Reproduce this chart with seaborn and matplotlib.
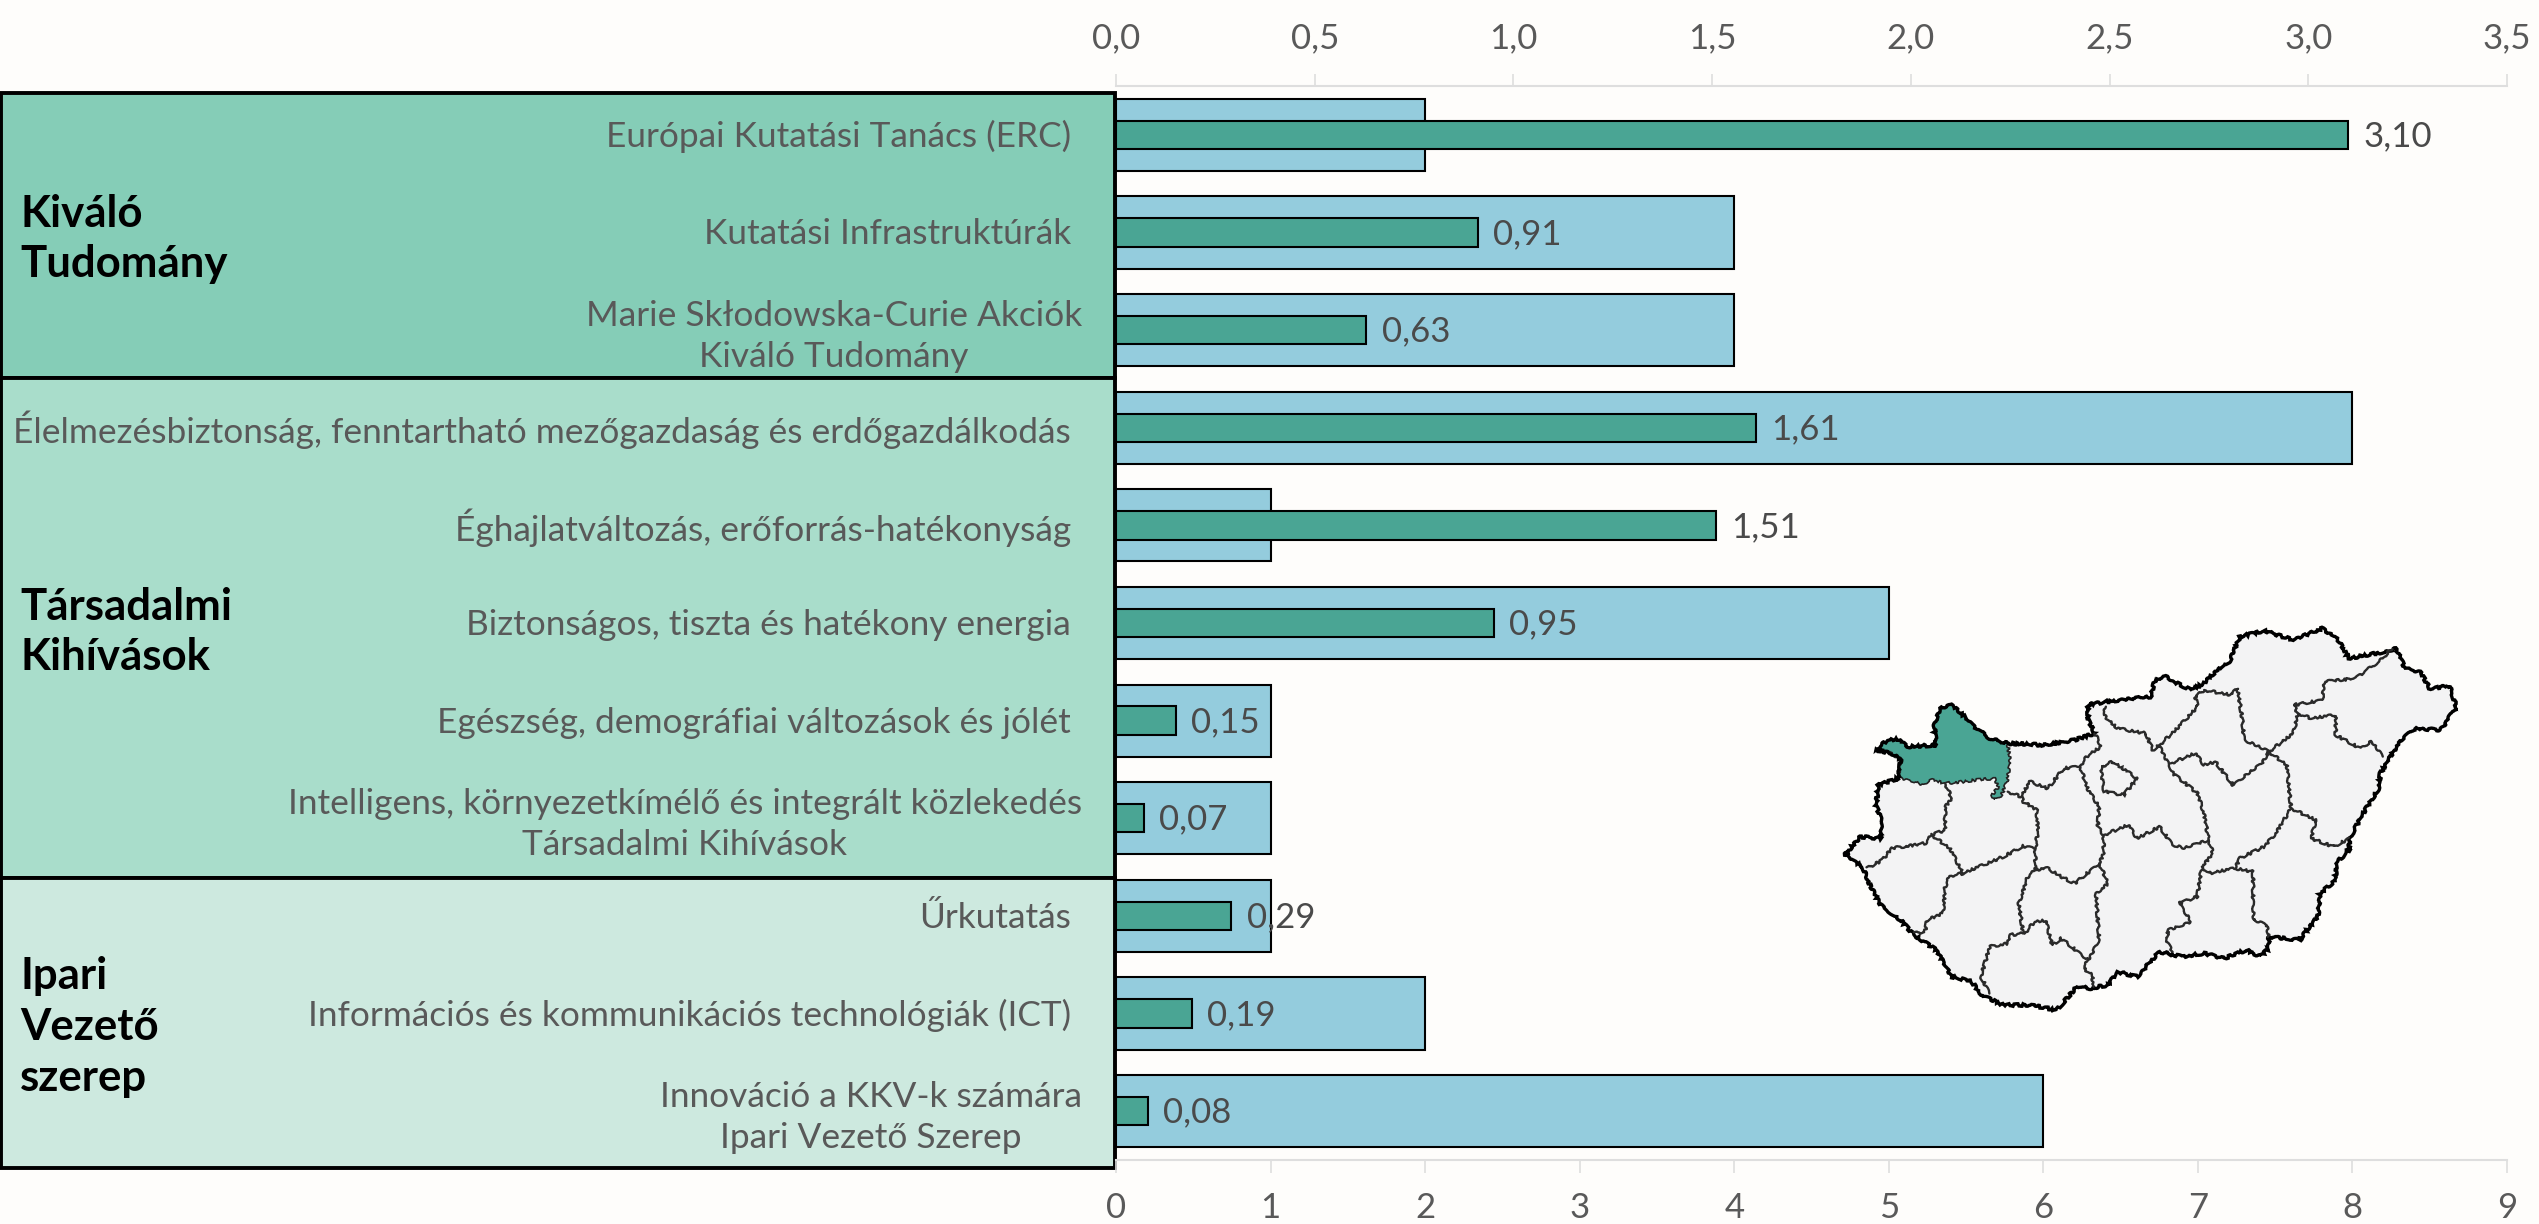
import matplotlib
matplotlib.use("Agg")
import matplotlib.pyplot as plt
import seaborn as sns
import pandas as pd
from matplotlib.patches import Rectangle, Polygon
from matplotlib.transforms import ScaledTranslation

W, H = 2539, 1224
BG = "#FEFDFB"
LIGHT = "#94CCDD"
DARK = "#4AA594"
TXT = "#595959"

categories = [
    "Európai Kutatási Tanács (ERC)",
    "Kutatási Infrastruktúrák",
    "Marie Skłodowska-Curie Akciók\nKiváló Tudomány",
    "Élelmezésbiztonság, fenntartható mezőgazdaság és erdőgazdálkodás",
    "Éghajlatváltozás, erőforrás-hatékonyság",
    "Biztonságos, tiszta és hatékony energia",
    "Egészség, demográfiai változások és jólét",
    "Intelligens, környezetkímélő és integrált közlekedés\nTársadalmi Kihívások",
    "Űrkutatás",
    "Információs és kommunikációs technológiák (ICT)",
    "Innováció a KKV-k számára\nIpari Vezető Szerep",
]
projects = [2, 4, 4, 8, 1, 5, 1, 1, 1, 2, 6]
funding = [3.10, 0.91, 0.63, 1.61, 1.51, 0.95, 0.15, 0.07, 0.29, 0.19, 0.08]
top_ticks = ["0,0", "0,5", "1,0", "1,5", "2,0", "2,5", "3,0", "3,5"]
groups = ["Kiváló\nTudomány", "Társadalmi\nKihívások", "Ipari\nVezető\nszerep"]

# Map outlines, traced in a 1568x1320 local frame
hungary = [(215,450),(240,420),(265,418),(285,440),(350,435),(345,375),(360,325),(385,315),(410,345),(430,375),(470,415),(510,430),(590,435),(660,420),(705,400),(690,360),(690,315),(730,305),(790,295),(830,290),(840,240),(865,230),(890,250),(920,270),(950,250),(975,215),(1005,190),(1030,110),(1085,92),(1150,120),(1215,85),(1250,120),(1275,175),(1355,155),(1380,145),(1400,205),(1435,215),(1455,265),(1500,258),(1515,320),(1480,390),(1425,385),(1390,420),(1345,520),(1340,570),(1315,620),(1290,680),(1275,720),(1275,750),(1245,790),(1245,840),(1210,880),(1205,950),(1180,990),(1165,1020),(1095,1010),(1095,1045),(1075,1070),(1045,1050),(995,1075),(950,1060),(900,1070),(850,1055),(800,1130),(755,1115),(735,1155),(695,1165),(665,1160),(620,1230),(560,1215),(500,1215),(450,1185),(430,1145),(385,1130),(350,1050),(300,1005),(270,960),(225,915),(200,850),(185,800),(145,765),(180,710),(225,715),(230,660),(215,620),(220,555),(265,535),(270,480),(250,460)]
region = [(215,450),(240,420),(265,418),(285,440),(350,435),(345,375),(360,325),(385,315),(410,345),(430,375),(470,415),(510,430),(515,480),(510,540),(495,590),(480,600),(475,585),(490,560),(480,535),(440,540),(410,545),(370,550),(340,540),(320,555),(290,540),(265,535),(270,480),(250,460)]
budapest = [(720,500),(745,485),(800,535),(770,585),(725,575)]
county_lines = [
    [(370,550),(385,595),(370,620),(370,690),(340,705)],
    [(340,705),(325,730),(250,745),(230,780),(195,805)],
    [(340,705),(380,745),(410,820)],
    [(380,828),(410,820),(500,770),(545,738),(572,745)],
    [(380,828),(370,860),(365,940),(330,960),(325,995),(300,1000)],
    [(572,745),(578,690),(575,630),(545,605),(540,590)],
    [(510,575),(540,590),(560,545),(600,565),(635,505),(672,498)],
    [(672,498),(690,465),(720,440),(705,400)],
    [(672,498),(690,570),(715,620),(712,680),(725,705)],
    [(572,745),(572,810),(600,805),(630,830),(660,850),(715,790)],
    [(725,705),(725,760),(715,790)],
    [(715,790),(735,850),(708,880),(715,1020),(690,1080)],
    [(572,810),(555,830),(535,910),(545,1000)],
    [(548,1000),(515,1005),(510,1030),(470,1040),(450,1130),(470,1180)],
    [(548,1000),(570,965),(595,962),(610,1035),(630,1015),(690,1080)],
    [(690,1080),(680,1105),(700,1125),(700,1160)],
    [(725,705),(780,675),(800,715),(850,680),(880,735),(905,745),(960,720)],
    [(960,720),(970,760),(945,800),(935,890),(895,910),(920,965),(870,990),(865,1025),(880,1055)],
    [(945,800),(960,820),(1020,805),(1060,815),(1060,960),(1090,975),(1095,1010)],
    [(960,720),(950,640),(935,580),(880,520),(850,435)],
    [(730,320),(725,345),(755,385),(820,400),(835,450),(850,435)],
    [(850,435),(890,385),(935,320),(930,290),(950,270)],
    [(950,270),(1010,285),(1025,265),(1035,350),(1040,420),(1095,455)],
    [(875,490),(930,460),(950,495),(975,485),(1015,555),(1080,490),(1095,455)],
    [(1095,455),(1150,400),(1160,340),(1150,315),(1215,300),(1220,245),(1290,235),(1350,175),(1370,145)],
    [(1160,340),(1190,355),(1245,345),(1245,405),(1300,445),(1325,425),(1350,470)],
    [(1095,455),(1135,495),(1145,625)],
    [(1145,625),(1110,700),(1085,740),(1030,775),(1020,805)],
    [(1145,625),(1200,660),(1190,715),(1240,740),(1275,715)],
]

sns.set_theme(style="white")
plt.rcParams["font.family"] = ["Lato", "DejaVu Sans"]

fig = plt.figure(figsize=(W / 100, H / 100), dpi=100, facecolor=BG)


def box_px(x0, y0, x1, y1):
    return [x0 / W, 1 - y1 / H, (x1 - x0) / W, (y1 - y0) / H]


# Group panels
panels = [(93, 378, "#85CDB7"), (378, 878, "#A9DDCB"), (878, 1168, "#CDE9DF")]
for y0, y1, c in panels:
    b = box_px(1, y0, 1115, y1)
    fig.add_artist(Rectangle((b[0], b[1]), b[2], b[3], transform=fig.transFigure,
                             facecolor=c, edgecolor="black", linewidth=2.8, zorder=-1))
for (y, g) in zip([239, 632, 1027], groups):
    fig.text(20 / W, 1 - y / H, g, ha="left", va="center", fontsize=31.5, fontweight="bold",
             color="black", linespacing=1.33)

ax = fig.add_axes(box_px(1116, 86, 2507, 1160))
ax.patch.set_alpha(0)
df = pd.DataFrame({"cat": categories, "projects": projects, "funding": funding})
sns.barplot(data=df, x="projects", y="cat", orient="h", ax=ax, color=LIGHT, saturation=1,
            width=0.74, edgecolor="black", linewidth=1.5)
ax2 = ax.twiny()
sns.barplot(data=df, x="funding", y="cat", orient="h", ax=ax2, color=DARK, saturation=1,
            width=0.29, edgecolor="black", linewidth=1.5)

ax.set_xlim(0, 9)
ax2.set_xlim(0, 3.5)
ax.set_ylim(10.5, -0.5)
ax.set_xlabel("")
ax.set_ylabel("")
ax2.set_xlabel("")
ax2.set_ylabel("")
ax.set_xticks(range(10))
ax.set_xticklabels([str(i) for i in range(10)])
ax2.set_xticks([i * 0.5 for i in range(8)])
ax2.set_xticklabels(top_ticks)
ax2.tick_params(axis="y", left=False, labelleft=False)

ax.set_yticks(range(len(categories)))
labels = ax.set_yticklabels(categories, fontsize=25.4, color=TXT, linespacing=1.34, multialignment="center")
ax.tick_params(axis="y", length=0, pad=0)
for lab, cat in zip(labels, categories):
    dx = -34 if "\n" in cat else -45
    lab.set_transform(lab.get_transform() + ScaledTranslation(dx / 100, 1 / 100, fig.dpi_scale_trans))

for a, where in ((ax, "bottom"), (ax2, "top")):
    for s in a.spines.values():
        s.set_visible(False)
    a.spines[where].set_visible(True)
    a.spines[where].set_color("#DEDEDE")
    a.spines[where].set_linewidth(1.5)
    a.tick_params(axis="x", length=9, width=1.2, color="#DEDEDE", labelsize=25, labelcolor=TXT, pad=14,
                  bottom=(where == "bottom"), top=(where == "top"),
                  labelbottom=(where == "bottom"), labeltop=(where == "top"))

for i, v in enumerate(funding):
    ax2.annotate(f"{v:.2f}".replace(".", ","), (v, i), xytext=(11, -1), textcoords="offset points",
                 ha="left", va="center", fontsize=25, color="#4A4A4A")

# Map inset
mp = fig.add_axes(box_px(1780, 600, 2480, 1040))
mp.set_xlim(0, 1568)
mp.set_ylim(1320, 0)
mp.axis("off")
SK = (1.3, 14, 8)
mp.add_patch(Polygon(hungary, closed=True, facecolor="#F3F3F4", edgecolor="none"))
rp = Polygon(region, closed=True, facecolor=DARK, edgecolor="#222222", linewidth=1.2)
rp.set_sketch_params(*SK)
mp.add_patch(rp)
bp = Polygon(budapest, closed=True, facecolor="#F3F3F4", edgecolor="#2A2A2A", linewidth=1.7)
bp.set_sketch_params(*SK)
mp.add_patch(bp)
for line in county_lines:
    xs, ys = zip(*line)
    l, = mp.plot(xs, ys, color="#2A2A2A", linewidth=1.7)
    l.set_sketch_params(*SK)
op = Polygon(hungary, closed=True, facecolor="none", edgecolor="black", linewidth=2.4)
op.set_sketch_params(*SK)
mp.add_patch(op)

fig.savefig("out.png", dpi=100, facecolor=BG)
